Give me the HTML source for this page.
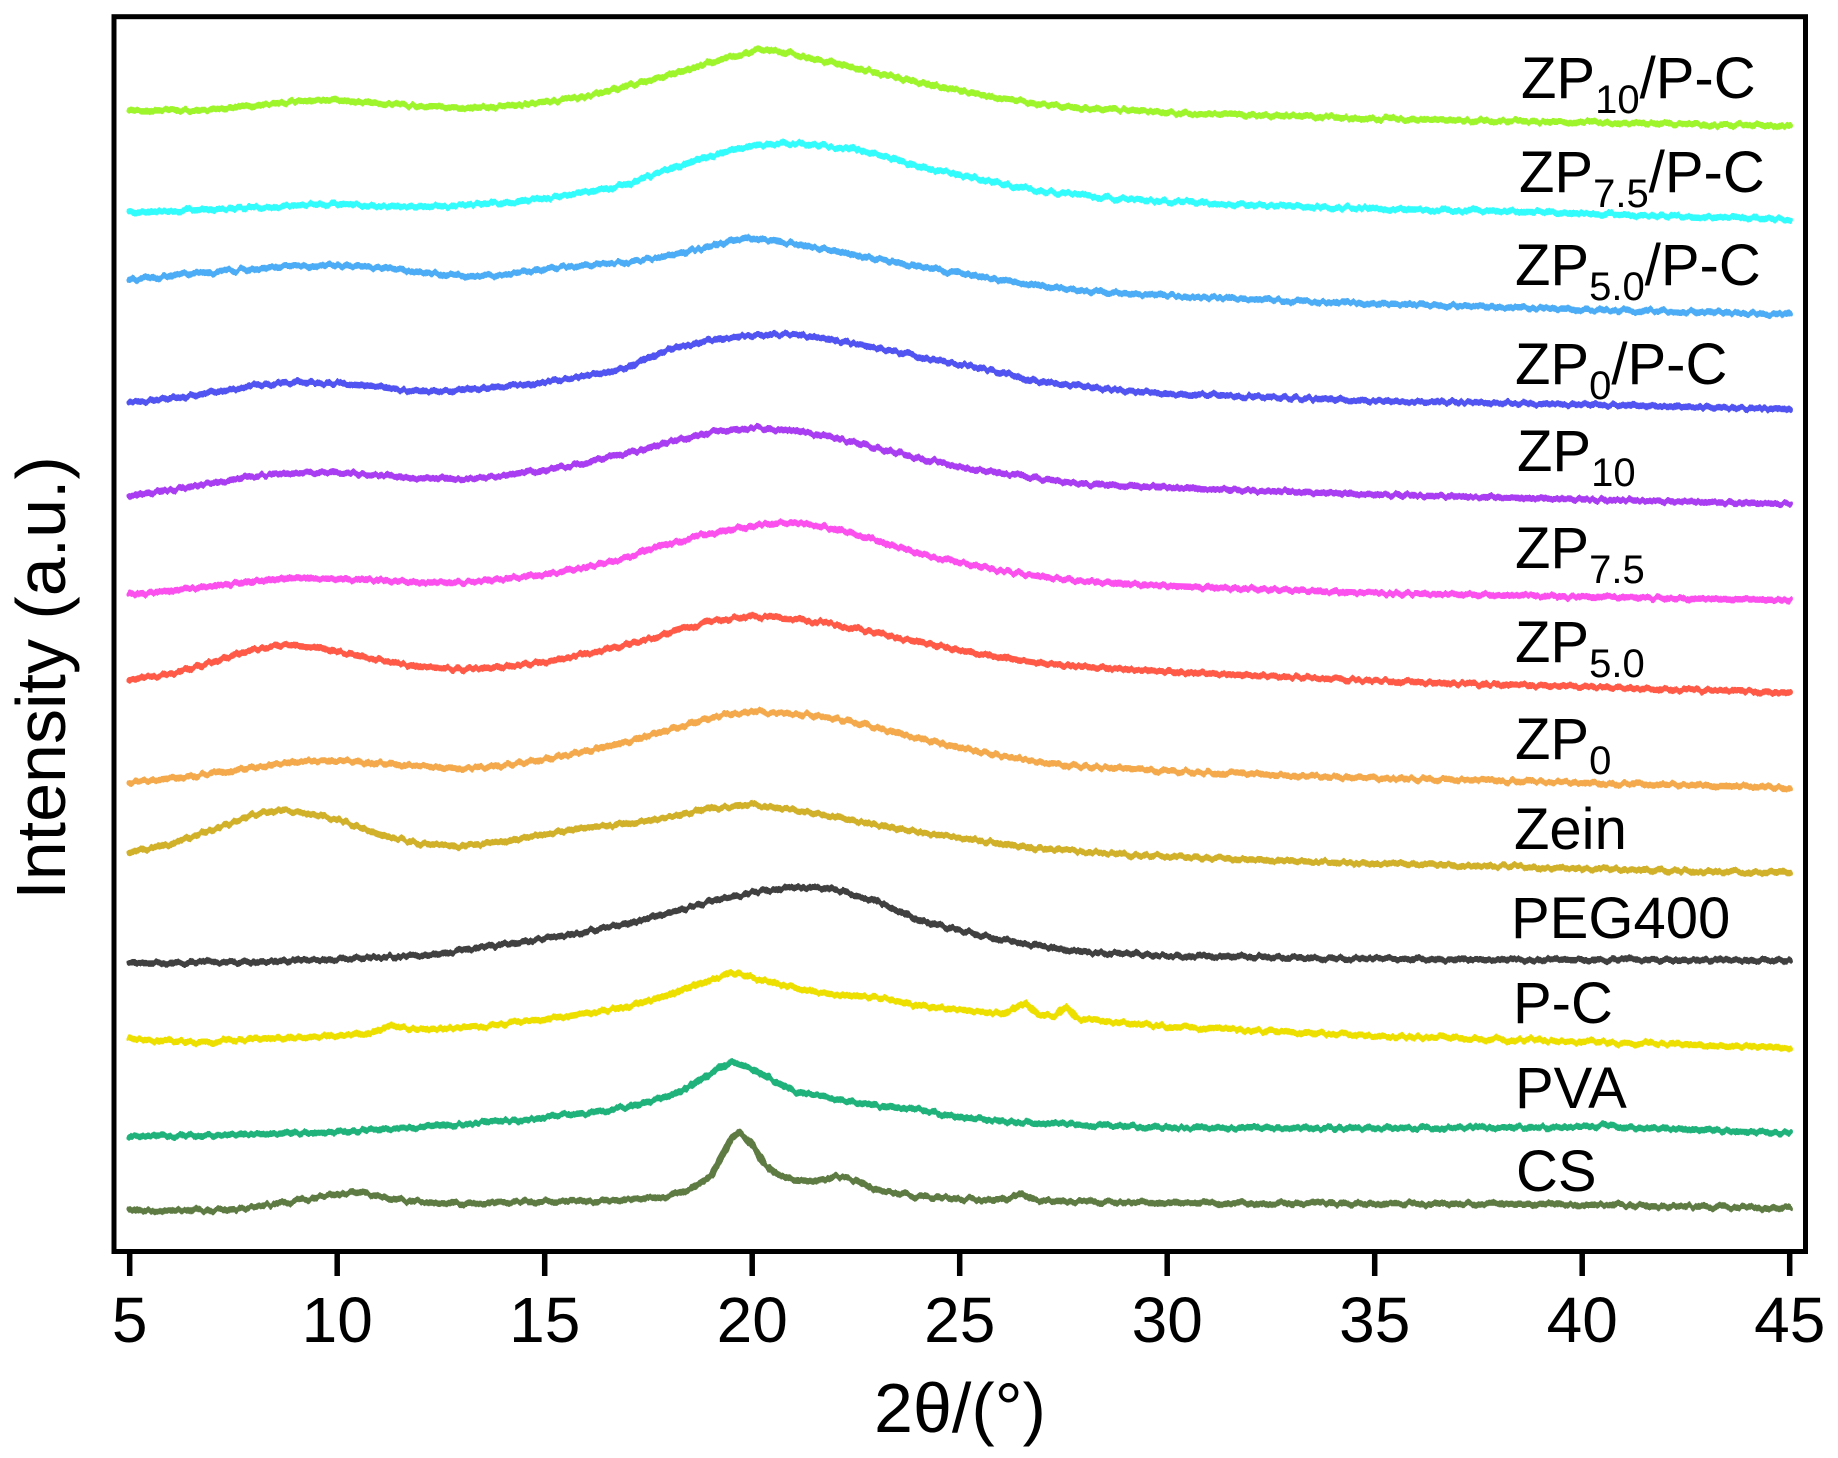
<!DOCTYPE html>
<html>
<head>
<meta charset="utf-8">
<style>
  html, body { margin: 0; padding: 0; background: #ffffff; }
  svg { display: block; }
  text { font-family: "Liberation Sans", Arial, sans-serif; fill: #000; }
</style>
</head>
<body>
<svg width="1838" height="1458" viewBox="0 0 1838 1458" xmlns="http://www.w3.org/2000/svg">
  <defs>
    <filter id="nz" filterUnits="userSpaceOnUse" x="0" y="0" width="1838" height="1458" color-interpolation-filters="sRGB">
      <feTurbulence type="fractalNoise" baseFrequency="0.18 0.012" numOctaves="2" seed="7" result="t"/>
      <feColorMatrix in="t" type="matrix" values="0 0 0 0 0.5  0 1 0 0 0  0 0 0 0 0  0 0 0 0 1" result="m"/>
      <feDisplacementMap in="SourceGraphic" in2="m" scale="7" xChannelSelector="R" yChannelSelector="G"/>
    </filter>
  </defs>
  <rect x="0" y="0" width="1838" height="1458" fill="#ffffff"/>

  <!-- curves -->
  <g filter="url(#nz)">
    <g transform="matrix(41.5 0 0 1.1715 -77.8 0.3)" fill="none" stroke-width="6.5" stroke-linejoin="round" stroke-linecap="round">
      <polyline vector-effect="non-scaling-stroke" stroke="#9ef52b" points="5,94 6,94 7,93 8,90 9,86 10,85 11,88 12,91 13,92 14,90 15,87 16,82 17,73 18,64 19,53 19.5,48 20,44 20.4,41 21,46 21.5,50 22,54 23,62 24,70 25,77 26,84 27,89 28,92 29,94 30,96 32,98 35,101 38,103 40,104 43,106 45,107"/>
      <polyline vector-effect="non-scaling-stroke" stroke="#33fcfc" points="5,181 6,180 7,178 8,177 9,175 10,174 11,175 12,176 13,175 14,173 15,169 16,164 17,157 18,144 19,133 19.5,128 20,124 21,122 22,125 23,131 24,142 25,149 26,156 27,163 28,167 29,170 30,172 32,175 35,178 38,180 40,182 43,185 45,187"/>
      <polyline vector-effect="non-scaling-stroke" stroke="#4cacf5" points="5,239 6,235 7,232 8,229 9,227 10,226 11,228 12,232 13,235 14,235 15,229 16,226 17,224 18,218 19,210 19.8,203 20.5,205 21,208 22,214 23,221 24,227 25,233 26,239 27,244 28,248 30,252 32,255 35,259 38,262 40,264 45,268"/>
      <polyline vector-effect="non-scaling-stroke" stroke="#5254f2" points="5,343 6,340 7,335 8,329 9,326 10,327 11,330 12,334 13,333 14,330 15,326 16,320 17,313 17.5,305 18,298 19,290 20,286 21,285 22,290 23,297 24,304 25,311 26,318 27,326 28,330 29,333 30,336 35,342 40,345 45,349"/>
      <polyline vector-effect="non-scaling-stroke" stroke="#a93df2" points="5,423 6,418 7,412 8,406 9,403 10,403 11,405 12,408 13,409 14,406 15,401 16,395 17,387 18,377 19,369 20,365 21,367 22,373 23,382 24,391 25,398 26,404 27,409 28,413 30,416 35,422 40,426 45,430"/>
      <polyline vector-effect="non-scaling-stroke" stroke="#fb50ee" points="5,507 6,504 7,500 8,496 9,493 10,494 11,495 12,497 13,497 14,494 15,490 16,484 17,475 18,464 19,455 20,448 21,446 22,451 23,461 24,472 25,480 26,487 27,492 28,496 30,500 35,506 40,509 45,512"/>
      <polyline vector-effect="non-scaling-stroke" stroke="#ff5a47" points="5,580 6,575 7,565 8,554 8.7,550 9.5,552 10,556 11,563 12,569 13,571 14,569 15,565 16,558 17,550 18,540 19,530 20,526 21,528 22,533 23,540 24,548 25,555 26,561 27,566 28,569 30,573 35,581 40,586 45,591"/>
      <polyline vector-effect="non-scaling-stroke" stroke="#f4aa4c" points="5,668 6,664 7,660 8,655 9,650 10,649 11,651 12,654 13,656 14,653 15,648 16,641 17,633 18,623 19,612 20,607 21,609 22,613 23,621 24,630 25,638 26,645 27,651 28,654 30,658 35,664 40,668 45,672"/>
      <polyline vector-effect="non-scaling-stroke" stroke="#d1b02a" points="5,727 6,720 7,708 8,695 8.8,691 10,699 11,712 12,720 13,722 14,718 15,712 16,706 17,703 18,697 19,690 20,687 21,691 22,697 23,704 24,710 25,715 26,720 27,724 28,727 30,731 35,737 40,741 45,745"/>
      <polyline vector-effect="non-scaling-stroke" stroke="#404040" points="5,822 8,821 10,819 12,815 13,811 14,806 15,801 16,795 17,788 18,779 19,769 20,762 21,757 22,759 23,769 24,785 25,794 26,802 27,808 28,812 30,816 35,818 40,819 45,820"/>
      <polyline vector-effect="non-scaling-stroke" stroke="#ede000" points="5,886 6,889 7,889 8,887 9,885 10,884 10.8,881 11.3,875 11.7,878 12,879 13,877 14,874 15,870 16,865 17,859 18,849 19,836 19.5,830 20,834 21,843 22,849 23,851 24,858 25,862 26,865 26.6,856 26.9,866 27.3,867 27.55,859 27.8,868 28,870 30,876 35,884 40,889 45,894"/>
      <polyline vector-effect="non-scaling-stroke" stroke="#20b27b" points="5,970 8,968 10,966 12,962 14,957 15,954 16,950 17,945 18,935 18.5,927 19,916 19.5,906 20,912 20.5,922 21,931 22,938 23,943 24,947 25,953 26,957 28,960 30,962 35,963 40,962 40.5,960 41,962 45,967"/>
      <polyline vector-effect="non-scaling-stroke" stroke="#5e7b43" points="5,1033 7,1033 8,1030 9,1025 10,1019 10.5,1017 11,1021 12,1026 13,1027 14,1026 15,1025 16,1025 17,1024 18,1021 18.5,1015 19,1004 19.3,985 19.5,971 19.7,966 20,977 20.3,994 20.6,1002 21,1007 21.5,1008 22,1004 22.5,1007 23,1016 24,1021 25,1023 26,1024 26.5,1019 26.8,1024 27,1025 30,1027 35,1027 40,1028 45,1031"/>
    </g>
  </g>

  <!-- frame -->
  <rect x="114" y="16.7" width="1691.5" height="1234.8" fill="none" stroke="#000" stroke-width="5"/>

  <!-- x ticks -->
  <g stroke="#000" stroke-width="5.5">
    <line x1="129.7" y1="1252" x2="129.7" y2="1276"/>
    <line x1="337.2" y1="1252" x2="337.2" y2="1276"/>
    <line x1="544.7" y1="1252" x2="544.7" y2="1276"/>
    <line x1="752.2" y1="1252" x2="752.2" y2="1276"/>
    <line x1="959.7" y1="1252" x2="959.7" y2="1276"/>
    <line x1="1167.2" y1="1252" x2="1167.2" y2="1276"/>
    <line x1="1374.7" y1="1252" x2="1374.7" y2="1276"/>
    <line x1="1582.2" y1="1252" x2="1582.2" y2="1276"/>
    <line x1="1789.7" y1="1252" x2="1789.7" y2="1276"/>
  </g>

  <!-- x tick labels -->
  <g font-size="64" text-anchor="middle">
    <text x="129.7" y="1342">5</text>
    <text x="337.2" y="1342">10</text>
    <text x="544.7" y="1342">15</text>
    <text x="752.2" y="1342">20</text>
    <text x="959.7" y="1342">25</text>
    <text x="1167.2" y="1342">30</text>
    <text x="1374.7" y="1342">35</text>
    <text x="1582.2" y="1342">40</text>
    <text x="1789.7" y="1342">45</text>
  </g>

  <!-- axis titles -->
  <text x="960" y="1432" font-size="70" text-anchor="middle">2θ/(°)</text>
  <text transform="translate(65,678) rotate(-90)" font-size="70" text-anchor="middle">Intensity (a.u.)</text>

  <!-- series labels -->
  <g font-size="58">
    <text x="1521" y="98">ZP<tspan font-size="40" dy="15">10</tspan><tspan dy="-15">/P-C</tspan></text>
    <text x="1519" y="192">ZP<tspan font-size="40" dy="15">7.5</tspan><tspan dy="-15">/P-C</tspan></text>
    <text x="1515" y="285">ZP<tspan font-size="40" dy="15">5.0</tspan><tspan dy="-15">/P-C</tspan></text>
    <text x="1515" y="384">ZP<tspan font-size="40" dy="15">0</tspan><tspan dy="-15">/P-C</tspan></text>
    <text x="1517" y="471">ZP<tspan font-size="40" dy="15">10</tspan></text>
    <text x="1515" y="568">ZP<tspan font-size="40" dy="15">7.5</tspan></text>
    <text x="1515" y="662">ZP<tspan font-size="40" dy="15">5.0</tspan></text>
    <text x="1515" y="759">ZP<tspan font-size="40" dy="15">0</tspan></text>
    <text x="1514" y="849">Zein</text>
    <text x="1511" y="938">PEG400</text>
    <text x="1513" y="1023">P-C</text>
    <text x="1515" y="1108">PVA</text>
    <text x="1516" y="1191">CS</text>
  </g>
</svg>
</body>
</html>
